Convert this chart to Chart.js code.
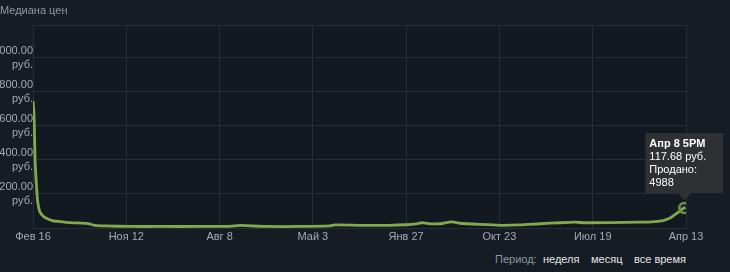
<!DOCTYPE html>
<html>
<head>
<meta charset="utf-8">
<script src="https://cdn.jsdelivr.net/npm/chart.js@4.4.1/dist/chart.umd.min.js"></script>
<style>
  html, body { margin: 0; padding: 0; background: #161c24; }
  body { width: 730px; height: 272px; position: relative; overflow: hidden; font-family: 'Liberation Sans', Arial, sans-serif; }
  #wrap { position: absolute; left: 0; top: 0; width: 730px; height: 250px; }
  .title { position: absolute; left: 0; top: 4px; font-size: 11px; color: #8f98a0; }
  .period { position: absolute; top: 253px; font-size: 11px; color: #e6e6e6; }
  .period.lbl { color: #8f98a0; }
</style>
</head>
<body>
<div id="wrap"><canvas id="priceChart"></canvas></div>
<div class="title">Медиана цен</div>
<div class="period lbl" style="left:495px">Период:</div>
<div class="period" style="left:543px">неделя</div>
<div class="period" style="left:591px">месяц</div>
<div class="period" style="left:634px">все время</div>
<script>
// дни от начала (Фев 16) и медианная цена в рублях
const days = [0, 3, 6, 9, 12, 14, 20, 29, 40, 55, 78, 107, 136, 159, 179, 208, 280, 366, 482, 568,
  597, 626, 669, 770, 856, 871, 943, 1029, 1073, 1110, 1122, 1139, 1174, 1208, 1231, 1289, 1347,
  1404, 1462, 1520, 1563, 1592, 1664, 1750, 1794, 1817, 1837, 1848, 1857, 1866, 1872, 1878, 1881];
const prices = [747, 665, 400, 282, 188, 147, 94, 71, 56, 44, 38, 32, 29, 26, 15, 12, 9, 9, 9, 10,
  15, 13, 9, 9, 12, 18, 16, 16, 19, 26, 32, 26, 25, 36, 28, 21, 16,
  18, 25, 31, 34, 31, 32, 34, 38, 44, 59, 74, 88, 100, 112, 117.68, 122];

const tickDays = [0, 269, 538, 807, 1076, 1345, 1614, 1883];
const tickLabels = ['Фев 16', 'Ноя 12', 'Авг 8', 'Май 3', 'Янв 27', 'Окт 23', 'Июл 19', 'Апр 13'];
const yTicks = [0, 200, 400, 600, 800, 1000, 1194];

const tipIndex = 51;
const tipDate = 'Апр 8 5PM';
const tipSold = 4988;

const gridColor = '#252f3b';
const lineColor = '#80aa4c';
const fontFamily = "'Liberation Sans', Arial, sans-serif";

// fond de la zone du graphe
const plotBg = {
  id: 'plotBg',
  beforeDraw(chart) {
    const a = chart.chartArea;
    const ctx = chart.ctx;
    ctx.save();
    ctx.fillStyle = '#121921';
    ctx.fillRect(a.left, a.top, a.right - a.left, a.bottom - a.top);
    ctx.restore();
  }
};

const chart = new Chart(document.querySelector('#priceChart'), {
  type: 'line',
  data: {
    datasets: [{
      data: days.map((d, i) => ({ x: d, y: prices[i] })),
      borderColor: lineColor,
      borderWidth: 2.8,
      tension: 0.2,
      pointRadius: (c) => c.dataIndex === tipIndex ? 5 : 0,
      pointBorderColor: '#6a9640',
      pointBorderWidth: 2.5,
      pointBackgroundColor: 'rgba(0,0,0,0)'
    }]
  },
  options: {
    responsive: true,
    maintainAspectRatio: false,
    animation: false,
    events: [],
    layout: { padding: { top: 25, right: 44, left: 0, bottom: 0 } },
    plugins: {
      legend: { display: false },
      tooltip: {
        enabled: true,
        xAlign: 'center',
        yAlign: 'bottom',
        backgroundColor: '#2e3034',
        cornerRadius: 0,
        caretSize: 7,
        caretPadding: 8,
        displayColors: false,
        padding: { top: 5, bottom: 4, left: 4, right: 17 },
        titleColor: '#ffffff',
        bodyColor: '#ffffff',
        titleFont: { family: fontFamily, size: 11, weight: 'bold', lineHeight: 1.16 },
        bodyFont: { family: fontFamily, size: 11, lineHeight: 1.16 },
        titleMarginBottom: 0,
        bodySpacing: 0,
        callbacks: {
          title: () => tipDate,
          label: (c) => [c.parsed.y.toFixed(2) + ' руб.', 'Продано:', String(tipSold)]
        }
      }
    },
    scales: {
      x: {
        type: 'linear',
        min: 0,
        max: 1883,
        afterBuildTicks: (axis) => { axis.ticks = tickDays.map(v => ({ value: v })); },
        afterFit: (axis) => { axis.height = 22; },
        grid: { color: gridColor, drawTicks: false },
        border: { color: gridColor },
        ticks: {
          padding: 2,
          maxRotation: 0,
          autoSkip: false,
          color: '#a3abb4',
          font: { family: fontFamily, size: 11 },
          callback: (v) => tickLabels[tickDays.indexOf(v)]
        }
      },
      y: {
        min: 0,
        max: 1194,
        afterBuildTicks: (axis) => { axis.ticks = yTicks.map(v => ({ value: v })); },
        afterFit: (axis) => { axis.width = 33; },
        grid: { color: gridColor, drawTicks: false },
        border: { color: gridColor },
        ticks: {
          padding: 0,
          autoSkip: false,
          color: '#a3abb4',
          font: { family: fontFamily, size: 11, lineHeight: 1.35 },
          callback: (v) => (v > 0 && v <= 1000) ? [v.toFixed(2), 'руб.'] : ''
        }
      }
    }
  },
  plugins: [plotBg]
});

const meta = chart.getDatasetMeta(0).data[tipIndex];
chart.tooltip.setActiveElements([{ datasetIndex: 0, index: tipIndex }], { x: meta.x, y: meta.y });
chart.update();
</script>
</body>
</html>
